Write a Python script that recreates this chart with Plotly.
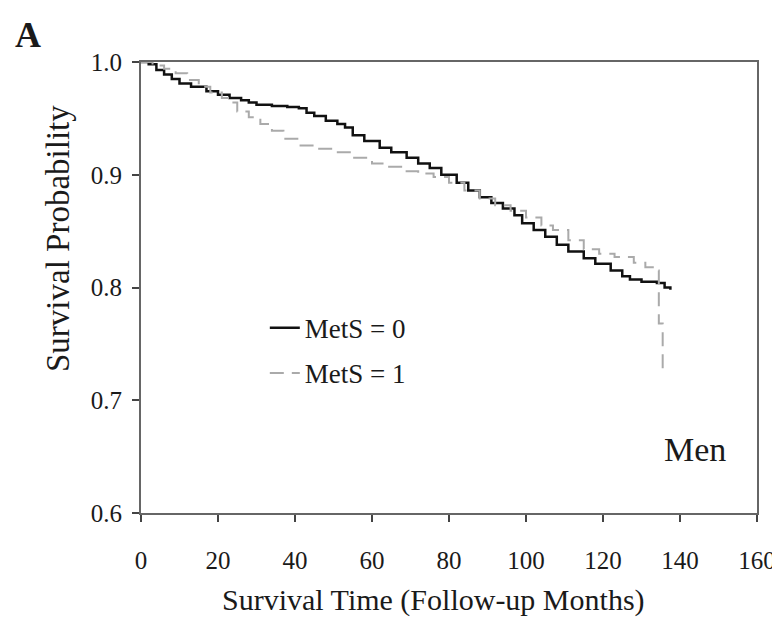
import plotly.graph_objects as go

# MetS = 0 (solid black) Kaplan-Meier estimate
t_mets0 = [0, 2, 4, 6, 8, 10, 13, 17, 20, 23, 26, 28, 30, 34, 38, 41, 43, 45, 48, 51,
           53, 55, 58, 62, 65, 69, 72, 75, 78, 82, 85, 88, 91, 94, 97, 99, 102, 105,
           108, 111, 115, 118, 122, 125, 127, 130, 134, 136, 137.5]
s_mets0 = [1.000, 0.998, 0.993, 0.989, 0.985, 0.981, 0.978, 0.974, 0.971, 0.968, 0.966,
           0.964, 0.962, 0.961, 0.960, 0.959, 0.955, 0.952, 0.948, 0.945, 0.942, 0.935,
           0.930, 0.924, 0.920, 0.915, 0.910, 0.906, 0.900, 0.893, 0.886, 0.880, 0.875,
           0.870, 0.864, 0.857, 0.851, 0.845, 0.838, 0.832, 0.826, 0.821, 0.815, 0.810,
           0.807, 0.805, 0.804, 0.800, 0.798]

# MetS = 1 (dashed grey) Kaplan-Meier estimate
t_mets1 = [0, 3, 6, 9, 12, 15, 18, 21, 23, 25, 28, 31, 34, 37, 41, 45, 50, 55, 60, 64,
           68, 72, 76, 80, 84, 88, 92, 96, 100, 104, 107, 111, 115, 119, 123, 128, 131,
           134, 134.5, 135.5]
s_mets1 = [1.000, 0.997, 0.994, 0.990, 0.984, 0.978, 0.973, 0.968, 0.964, 0.956, 0.951,
           0.945, 0.939, 0.932, 0.926, 0.923, 0.920, 0.915, 0.910, 0.907, 0.903, 0.901,
           0.898, 0.893, 0.886, 0.879, 0.873, 0.868, 0.862, 0.855, 0.851, 0.842, 0.834,
           0.830, 0.827, 0.822, 0.818, 0.815, 0.768, 0.725]

x_ticks = [0, 20, 40, 60, 80, 100, 120, 140, 160]
y_ticks = [0.6, 0.7, 0.8, 0.9, 1.0]
y_tick_labels = ["0.6", "0.7", "0.8", "0.9", "1.0"]

FONT = "Liberation Serif"
TXT = "#1a1a1a"

fig = go.Figure()
fig.add_trace(go.Scatter(
    x=t_mets0, y=s_mets0, mode="lines", line_shape="hv", name="MetS = 0",
    legendgroup="a",
    line=dict(color="#111111", width=2.5)))
fig.add_trace(go.Scatter(
    x=t_mets1, y=s_mets1, mode="lines", line_shape="hv", name="MetS = 1",
    legendgroup="b",
    line=dict(color="#aaaaaa", width=2, dash="14px,8px")))

axis_common = dict(
    showline=True, mirror=True, linecolor="#666666", linewidth=2,
    ticks="outside", ticklen=7, tickwidth=1.5, tickcolor="#444444",
    showgrid=False, zeroline=False,
    tickfont=dict(family=FONT, size=25, color=TXT),
)

fig.update_layout(
    width=780, height=640,
    margin=dict(l=133, r=31, t=54, b=135),
    paper_bgcolor="white", plot_bgcolor="white",
    font=dict(family=FONT, color=TXT),
    showlegend=True,
    xaxis=dict(range=[0, 160], tickvals=x_ticks, ticklabelstandoff=17,
               **axis_common),
    yaxis=dict(range=[0.6, 1.0], tickvals=y_ticks, ticktext=y_tick_labels,
               ticklabelstandoff=5,
               **axis_common),
    legend=dict(x=0.201, y=0.464, xanchor="left", yanchor="top",
                font=dict(family=FONT, size=27, color=TXT),
                bgcolor="rgba(0,0,0,0)", traceorder="grouped", tracegroupgap=7),
    annotations=[
        dict(text="<b>A</b>", xref="paper", yref="paper", x=-0.183, y=1.06,
             xanchor="center", yanchor="middle",
             showarrow=False, font=dict(family=FONT, size=36, color=TXT)),
        dict(text="Men", xref="x", yref="y", x=143.9, y=0.656,
             xanchor="center", yanchor="middle",
             showarrow=False, font=dict(family=FONT, size=34, color=TXT)),
        dict(text="Survival Time (Follow-up Months)", xref="paper", yref="paper",
             x=(433 - 141) / 616, y=(513 - 600) / 451,
             xanchor="center", yanchor="middle",
             showarrow=False, font=dict(family=FONT, size=30, color=TXT)),
        dict(text="Survival Probability", xref="paper", yref="paper",
             x=(58 - 141) / 616, y=(513 - 239) / 451, textangle=-90,
             xanchor="center", yanchor="middle",
             showarrow=False, font=dict(family=FONT, size=33, color=TXT)),
    ],
)

fig.write_html("out.html")
